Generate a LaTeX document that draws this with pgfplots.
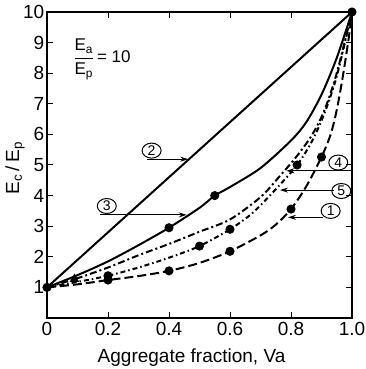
\documentclass[border=0pt]{standalone}
\usepackage{fontspec}
\setmainfont{Liberation Sans}
\usepackage{pgfplots}
\pgfplotsset{compat=1.18}
\usetikzlibrary{arrows.meta,shapes.geometric}

% composite modulus vs. aggregate fraction, Ea/Ep = 10
\begin{document}
\begin{tikzpicture}
\begin{axis}[
  scale only axis,
  width=305pt, height=306pt,
  xmin=0, xmax=1, ymin=0, ymax=10,
  xtick={0,0.2,0.4,0.6,0.8,1},
  xticklabels={0,0.2,0.4,0.6,0.8,1.0},
  ytick={1,2,3,4,5,6,7,8,9,10},
  /pgf/number format/assume math mode=true,
  axis line style={line width=2pt},
  major tick style={line width=1pt, black},
  major tick length=6pt,
  ticklabel style={font=\fontsize{19}{22}\selectfont},
  yticklabel style={inner sep=2.5pt},
  xticklabel style={inner sep=4pt},
  xlabel={Aggregate fraction, Va},
  ylabel={E\textsubscript{c}\,/\,E\textsubscript{p}},
  every axis x label/.style={at={(axis description cs:0.474,-0.131)}, anchor=center,
    font=\fontsize{19}{22}\selectfont},
  every axis y label/.style={at={(axis description cs:-0.105,0.49)}, rotate=90, anchor=center,
    font=\fontsize{19}{22}\selectfont},
  every axis plot/.append style={line width=2pt, black},
  clip=false,
]

% (2) parallel bound: straight line
\addplot[solid] coordinates {(0,1) (1,10)};

% (3) solid curve
\addplot[solid, smooth] coordinates {
  (0,1) (0.1,1.4) (0.2,1.85) (0.3,2.38) (0.4,2.95) (0.5,3.6) (0.55,4.0)
  (0.6,4.28) (0.7,4.9) (0.8,5.8) (0.85,6.4) (0.9,7.3) (0.95,8.5) (1,10)};
\addplot[only marks, mark=*, mark size=3.5pt] coordinates {(0.4,2.95) (0.55,4.0)};

% (4) dashed curve
\addplot[smooth, dash pattern=on 7pt off 3pt on 2pt off 3pt] coordinates {
  (0,1) (0.1,1.3) (0.2,1.65) (0.3,2.05) (0.4,2.42) (0.5,2.82) (0.6,3.22)
  (0.7,3.95) (0.76,4.6) (0.82,5.3) (0.87,6.0) (0.91,6.8) (0.95,8.0) (1,10)};
\addplot[only marks, mark=triangle*, mark size=3.5pt] coordinates {(0.09,1.27)};

% (5) dash-dot curve
\addplot[smooth, dash pattern=on 5pt off 3pt on 1.5pt off 3pt] coordinates {
  (0,1) (0.1,1.18) (0.2,1.38) (0.3,1.65) (0.4,1.97) (0.5,2.35) (0.6,2.9)
  (0.67,3.4) (0.74,4.1) (0.82,5.0) (0.87,5.8) (0.91,6.7) (0.95,7.9) (1,10)};
\addplot[only marks, mark=*, mark size=3.5pt] coordinates {
  (0.2,1.38) (0.5,2.35) (0.6,2.9) (0.82,5.0)};

% (1) series bound: long dashes
\addplot[smooth, dash pattern=on 9pt off 4pt] coordinates {
  (0,1) (0.1,1.1) (0.2,1.24) (0.3,1.37) (0.4,1.54) (0.5,1.8) (0.6,2.18)
  (0.7,2.7) (0.75,3.05) (0.8,3.56) (0.85,4.3) (0.9,5.26) (0.93,6.0)
  (0.95,6.8) (0.97,7.9) (0.99,9.2) (1,10)};
\addplot[only marks, mark=*, mark size=3.5pt] coordinates {
  (0.2,1.24) (0.4,1.54) (0.6,2.18) (0.8,3.56) (0.9,5.26)};

% common end points
\addplot[only marks, mark=*, mark size=3.5pt] coordinates {(0,1) (1,10)};

% modulus ratio
\node[font=\fontsize{17}{20}\selectfont, anchor=west] at (axis cs:0.075,8.45)
  {$\displaystyle\frac{\mathrm{E_a}}{\mathrm{E_p}}$\,= 10};

% curve labels
\tikzset{num/.style={ellipse, draw, line width=1pt, minimum width=19pt, minimum height=15pt,
  inner sep=0pt, font=\fontsize{14}{15}\selectfont},
  lead/.style={line width=0.9pt, -{Stealth[length=8pt,width=5pt]}}}
\node[num] at (axis cs:0.343,5.47) {2};
\draw[lead] (axis cs:0.327,5.19) -- (axis cs:0.463,5.19);
\node[num] at (axis cs:0.196,3.66) {3};
\draw[lead] (axis cs:0.174,3.37) -- (axis cs:0.458,3.37);
\node[num] at (axis cs:0.955,5.08) {4};
\draw[lead] (axis cs:1.0,4.81) -- (axis cs:0.785,4.81);
\node[num] at (axis cs:0.965,4.15) {5};
\draw[lead] (axis cs:0.94,4.18) -- (axis cs:0.764,4.18);
\node[num] at (axis cs:0.93,3.5) {1};
\draw[lead] (axis cs:0.905,3.29) -- (axis cs:0.79,3.29);
\end{axis}
\pgfresetboundingbox
\path ([shift={(-47pt,-51pt)}]current axis.south west)
  rectangle ([shift={(13pt,12pt)}]current axis.north east);
\end{tikzpicture}
\end{document}
